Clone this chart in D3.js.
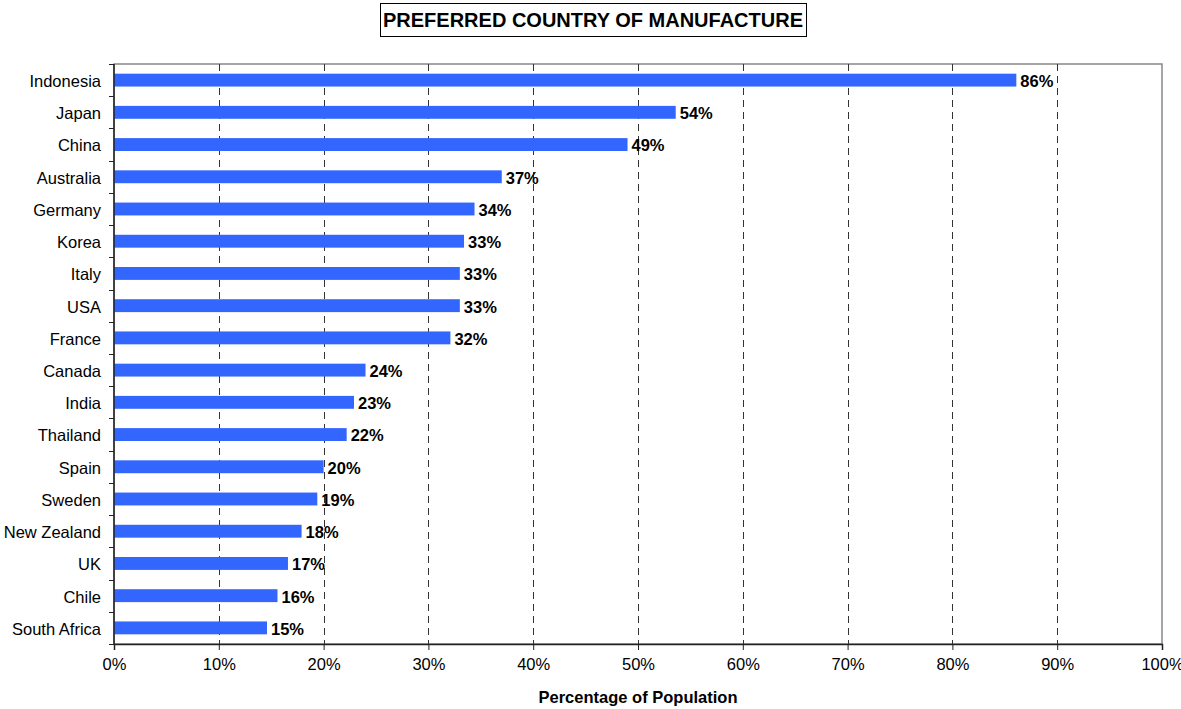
<!DOCTYPE html>
<html>
<head>
<meta charset="utf-8">
<script src="https://cdn.jsdelivr.net/npm/d3@7"></script>
<style>
body { margin: 0; background: #fff; }
text { font-family: "Liberation Sans", Arial, sans-serif; }
</style>
</head>
<body>
<svg width="1181" height="709"></svg>
<script>
var countries = ["Indonesia", "Japan", "China", "Australia", "Germany", "Korea", "Italy", "USA", "France",
  "Canada", "India", "Thailand", "Spain", "Sweden", "New Zealand", "UK", "Chile", "South Africa"];
var values = [86.1, 53.6, 49.0, 37.0, 34.4, 33.4, 33.0, 33.0, 32.1, 24.0, 22.9, 22.2, 20.0, 19.4, 17.9, 16.6, 15.6, 14.6];
var xTicks = [0, 10, 20, 30, 40, 50, 60, 70, 80, 90, 100];

var data = countries.map(function(c, i) { return { name: c, value: values[i] }; });

var svg = d3.select("svg");
var pLeft = 114, pRight = 1162, pTop = 64, pBottom = 644;

var x = d3.scaleLinear().domain([0, 100]).range([pLeft, pRight]);
var y = d3.scaleBand().domain(countries).range([pTop, pBottom]).paddingInner(0.6).paddingOuter(0.3);
var yb = d3.scaleBand().domain(countries).range([pTop, pBottom]);

// title box
svg.append("rect")
  .attr("x", 380.5).attr("y", 3.5).attr("width", 426).attr("height", 33)
  .attr("fill", "#fff").attr("stroke", "#000");
svg.append("text")
  .attr("x", 593).attr("y", 27)
  .attr("text-anchor", "middle")
  .style("font-size", "20px").style("font-weight", "bold")
  .text("PREFERRED COUNTRY OF MANUFACTURE");

// plot border (gray)
svg.append("rect")
  .attr("x", pLeft).attr("y", pTop).attr("width", pRight - pLeft).attr("height", pBottom - pTop)
  .attr("fill", "none").attr("stroke", "#888").attr("stroke-width", 1.5);

// grid
svg.append("g").selectAll("line")
  .data(xTicks.filter(function(d) { return d > 0 && d < 100; }))
  .enter().append("line")
  .attr("x1", function(d) { return Math.round(x(d)) + 0.5; })
  .attr("x2", function(d) { return Math.round(x(d)) + 0.5; })
  .attr("y1", pTop).attr("y2", pBottom)
  .attr("stroke", "#333").attr("stroke-dasharray", "7,5");

// bars
svg.append("g").selectAll("rect")
  .data(data).enter().append("rect")
  .attr("x", x(0))
  .attr("y", function(d) { return y(d.name); })
  .attr("width", function(d) { return x(d.value) - x(0); })
  .attr("height", y.bandwidth())
  .attr("fill", "#3366FF");

// value labels
svg.append("g").selectAll("text")
  .data(data).enter().append("text")
  .attr("x", function(d) { return x(d.value) + 4; })
  .attr("y", function(d) { return y(d.name) + y.bandwidth() / 2 + 1; })
  .attr("dy", "0.36em")
  .style("font-size", "16.5px").style("font-weight", "bold")
  .text(function(d) { return Math.round(d.value) + "%"; });

// x axis
var xAxis = svg.append("g")
  .attr("transform", "translate(0," + pBottom + ")")
  .call(d3.axisBottom(x).tickValues(xTicks).tickSize(6).tickPadding(8)
    .tickFormat(function(d) { return d + "%"; }));
xAxis.selectAll("text").style("font-size", "16.5px").style("font-family", "Liberation Sans, Arial, sans-serif").attr("fill", "#000");
xAxis.select(".domain").attr("stroke", "#222").attr("stroke-width", 1.5);
xAxis.selectAll(".tick line").attr("stroke", "#222");

// y axis: ticks at band boundaries
var yAxis = svg.append("g").attr("transform", "translate(" + pLeft + ",0)");
yAxis.append("line").attr("x1", 0).attr("x2", 0).attr("y1", pTop).attr("y2", pBottom)
  .attr("stroke", "#222").attr("stroke-width", 1.5);
var bounds = countries.map(function(c) { return yb(c); }).concat([pBottom]);
yAxis.selectAll(".tk").data(bounds).enter().append("line")
  .attr("x1", -5).attr("x2", 0)
  .attr("y1", function(d) { return Math.round(d) + 0.5; })
  .attr("y2", function(d) { return Math.round(d) + 0.5; })
  .attr("stroke", "#222");
yAxis.selectAll(".lbl").data(countries).enter().append("text")
  .attr("x", -13)
  .attr("y", function(d) { return yb(d) + yb.bandwidth() / 2 + 1; })
  .attr("dy", "0.36em")
  .attr("text-anchor", "end")
  .style("font-size", "16.5px")
  .text(function(d) { return d; });

// axis title
svg.append("text")
  .attr("x", 638).attr("y", 703)
  .attr("text-anchor", "middle")
  .style("font-size", "16.5px").style("font-weight", "bold")
  .text("Percentage of Population");
</script>
</body>
</html>
